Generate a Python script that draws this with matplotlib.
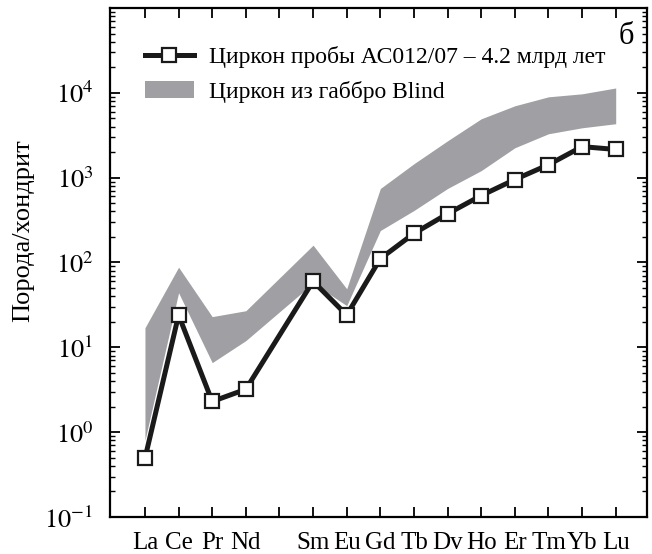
import matplotlib
matplotlib.use("Agg")
import matplotlib.pyplot as plt
from matplotlib.lines import Line2D
from matplotlib.patches import Patch
from matplotlib.ticker import LogLocator, NullFormatter

plt.rcParams['font.family'] = ['Liberation Serif', 'DejaVu Serif']
plt.rcParams['mathtext.fontset'] = 'stix'

# REE order, Pm (position 5) left empty
elements = ["La", "Ce", "Pr", "Nd", "", "Sm", "Eu", "Gd", "Tb", "Dv", "Ho", "Er", "Tm", "Yb", "Lu"]
sample_pos = [1, 2, 3, 4, 6, 7, 8, 9, 10, 11, 12, 13, 14, 15]
sample_vals = [0.49, 24, 2.3, 3.2, 60, 24, 111, 220, 375, 615, 950, 1420, 2320, 2150]

band_pos = [1, 2, 3, 4, 6, 7, 8, 9, 10, 11, 12, 13, 14, 15]
band_low = [0.8, 44, 6.6, 12, 57, 31, 238, 410, 745, 1210, 2250, 3290, 3870, 4320]
band_high = [17, 88, 23, 27, 160, 49, 745, 1460, 2720, 4940, 7030, 8970, 9730, 11400]

fig = plt.figure(figsize=(6.52, 5.54), dpi=100)
ax = fig.add_axes([0.1687, 0.0668, 0.8236, 0.9188])

ax.fill_between(band_pos, band_low, band_high, color="#a0a0a4", lw=0)
ax.plot(sample_pos, sample_vals, color="#1a1a1a", lw=3.6, marker="s", ms=10.5,
        mfc="white", mec="#1a1a1a", mew=1.6)

ax.set_yscale("log")
ax.set_ylim(0.1, 1e5)
ax.set_xlim(-0.04, 15.93)
ax.set_xticks(range(1, 16))
ax.set_xticklabels(elements)
ax.set_yticks([0.1, 1, 10, 100, 1000, 10000, 100000])
ax.set_yticklabels([r"$10^{-1}$", r"$10^{0}$", r"$10^{1}$", r"$10^{2}$",
                    r"$10^{3}$", r"$10^{4}$", ""])
ax.yaxis.set_minor_locator(LogLocator(base=10, subs=range(2, 10), numticks=10))
ax.yaxis.set_minor_formatter(NullFormatter())

ax.tick_params(axis="both", which="major", direction="in", length=7, width=1.3,
               top=True, right=True, labelsize=19)
ax.tick_params(axis="x", which="major", pad=11, labelsize=18)
ax.tick_params(axis="y", which="major", pad=12)
ax.tick_params(axis="y", which="minor", direction="in", length=3.5, width=1.0,
               right=True)
for s in ax.spines.values():
    s.set_linewidth(1.6)

fig.text(23 / 652, 1 - 231 / 554, "Порода/хондрит", rotation=90,
         ha="center", va="center", fontsize=19)

handles = [
    Line2D([], [], color="#1a1a1a", lw=3.6, marker="s", ms=10.5, mfc="white",
           mec="#1a1a1a", mew=1.6),
    Patch(facecolor="#a0a0a4", edgecolor="none"),
]
labels = ["Циркон пробы АС012/07 – 4.2 млрд лет", "Циркон из габбро Blind"]
ax.legend(handles, labels, loc="upper left", bbox_to_anchor=(0.025, 0.967),
          frameon=False, fontsize=17, handlelength=2.1, handletextpad=0.63,
          labelspacing=0.55)

ax.text(626 / 652, 1 - 37 / 554, "б", transform=fig.transFigure,
        ha="center", va="center", fontsize=22)

fig.savefig("out.png", dpi=100)
